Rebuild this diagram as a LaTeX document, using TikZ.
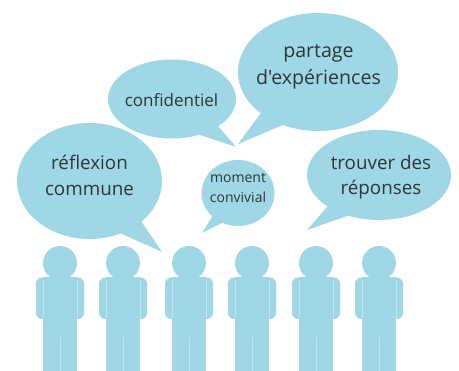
\documentclass[tikz,border=0pt]{standalone}
\usepackage{fontspec}
\newfontfamily\opensans{Open Sans}
\definecolor{bubble}{HTML}{9FD7E6}
\definecolor{seam}{HTML}{C4E6EF}
\definecolor{ink}{HTML}{2F3538}
\tikzset{
  bub/.style={fill=bubble,draw=none},
  seamline/.style={draw=seam,line width=0.6pt},
  huge/.style={text=ink,font=\opensans\fontsize{19.6}{27}\selectfont,align=center,inner sep=0pt},
  big/.style={text=ink,font=\opensans\fontsize{18.8}{25.5}\selectfont,align=center,inner sep=0pt},
  mid/.style={text=ink,font=\opensans\fontsize{17}{22}\selectfont,align=center,inner sep=0pt},
  small/.style={text=ink,font=\opensans\fontsize{14}{20}\selectfont,align=center,inner sep=0pt},
}
\newcommand{\bubbleshape}[8]{%
  \fill[bub] (#1,#2) ellipse [x radius=#3,y radius=#4];
  \fill[bub] (#5) -- (#6) -- (#7) -- (#8) -- cycle;}
\begin{document}
\begin{tikzpicture}[x=1pt,y=-1pt]
\useasboundingbox (0,0) rectangle (459,371);
\fill[white] (0,0) rectangle (459,371);
\bubbleshape{318}{72}{80}{59}{261,113}{238,144}{283,125}{318,72}
\bubbleshape{172}{99}{64}{39.5}{218,126}{236,147}{200,135}{172,99}
\bubbleshape{89.5}{181}{72.5}{58}{141,221}{162,252}{120,233}{89,181}
\bubbleshape{238}{193}{36.5}{33}{212,217}{202,233}{222,223}{238,193}
\bubbleshape{379}{175}{72}{45}{327,207}{307,230}{347,216}{379,175}
\node[huge] (partage) at (318.5,67) {partage\\d'expériences};
\node[mid] (conf) at (171.5,100) {confidentiel};
\node[big] (reflexion) at (89.5,175.5) {réflexion\\commune};
\node[small] (moment) at (238,187.5) {moment\\convivial};
\node[big] (trouver) at (381,177) {trouver des\\réponses};
\foreach \px in {60,123,189,252,316,379}{
  \begin{scope}[shift={(\px,0)}]
    \fill[bub] (0,263) circle (17);
    \fill[bub,rounded corners=6pt] (-24,277.5) rectangle (24,319);
    \fill[bub] (-17,277) rectangle (17,371);
    \draw[seamline] (-17,280) -- (-17,318);
    \draw[seamline] (17,280) -- (17,318);
    \draw[seamline] (0,337) -- (0,371);
  \end{scope}
}
\end{tikzpicture}
\end{document}
